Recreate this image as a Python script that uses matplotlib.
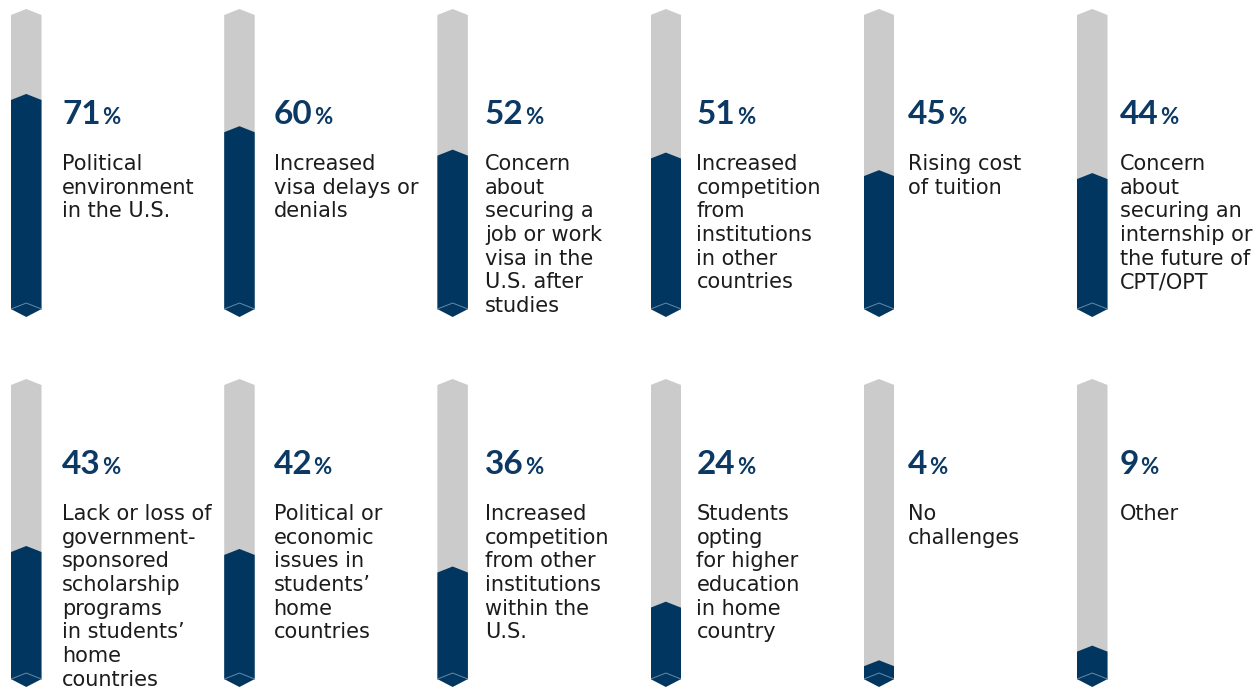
import matplotlib
matplotlib.use('Agg')
import matplotlib.pyplot as plt
from matplotlib.patches import Polygon

# survey shares, two rows of six
values_top = [71, 60, 52, 51, 45, 44]
labels_top = ["Political\nenvironment\nin the U.S.",
              "Increased\nvisa delays or\ndenials",
              "Concern\nabout\nsecuring a\njob or work\nvisa in the\nU.S. after\nstudies",
              "Increased\ncompetition\nfrom\ninstitutions\nin other\ncountries",
              "Rising cost\nof tuition",
              "Concern\nabout\nsecuring an\ninternship or\nthe future of\nCPT/OPT"]
values_bottom = [43, 42, 36, 24, 4, 9]
labels_bottom = ["Lack or loss of\ngovernment-\nsponsored\nscholarship\nprograms\nin students\u2019\nhome\ncountries",
                 "Political or\neconomic\nissues in\nstudents\u2019\nhome\ncountries",
                 "Increased\ncompetition\nfrom other\ninstitutions\nwithin the\nU.S.",
                 "Students\nopting\nfor higher\neducation\nin home\ncountry",
                 "No\nchallenges",
                 "Other"]

NAVY = '#00365f'
GRAY = '#cbcbcb'
NUM_COL = '#0b3963'
TXT_COL = '#1c1c1c'

W, H = 1260, 690
fig = plt.figure(figsize=(W / 100, H / 100), dpi=100)
fig.patch.set_facecolor('white')

PX_PER_PCT = 2.93
CAP_TOP = 2.05      # height of top chevron in %
EDGE_BOT = -2.4     # where the bottom chevron starts
TIP_BOT = -5.1      # bottom tip
INNER_BOT = -0.35   # inner light line apex
YMIN, YMAX = -5.5, 100.5
LINE_PITCH = 23.7   # px between label lines


def column_shape(v):
    return [(0, EDGE_BOT), (0, v - CAP_TOP), (0.5, v), (1, v - CAP_TOP),
            (1, EDGE_BOT), (0.5, TIP_BOT)]


def draw_row(values, labels, row):
    zero_px = 302 + row * 370      # pixel row of 0 %
    num_base = 124 + row * 350     # baseline of the big number
    lab_base = 170 + row * 350     # baseline of first label line
    for c, (v, lab) in enumerate(zip(values, labels)):
        left = 11 + c * 213.2
        top_px = zero_px - YMAX * PX_PER_PCT
        bot_px = zero_px - YMIN * PX_PER_PCT
        ax = fig.add_axes([left / W, 1 - bot_px / H, 30.5 / W, (bot_px - top_px) / H])
        ax.set_xlim(0, 1)
        ax.set_ylim(YMIN, YMAX)
        ax.axis('off')
        ax.add_patch(Polygon(column_shape(100), closed=True, fc=GRAY, ec='none'))
        ax.add_patch(Polygon(column_shape(v), closed=True, fc=NAVY, ec='none'))
        ax.plot([0, 0.5, 1], [EDGE_BOT, INNER_BOT, EDGE_BOT], color='#6a88a6', lw=0.7)

        tx = (62 + c * 211.5) / W
        num = fig.text(tx, 1 - num_base / H, str(v), fontsize=24, fontweight='bold',
                       family='Lato', color=NUM_COL, va='baseline', ha='left')
        fig.canvas.draw()
        bb = num.get_window_extent()
        fig.text((bb.x1 + 1.5) / W, 1 - num_base / H, '%', fontsize=16, fontweight='bold',
                 family='Lato', color=NUM_COL, va='baseline', ha='left')
        for i, line in enumerate(lab.split('\n')):
            fig.text(tx, 1 - (lab_base + i * LINE_PITCH) / H, line, fontsize=15,
                     family='DejaVu Sans', color=TXT_COL, va='baseline', ha='left')


draw_row(values_top, labels_top, 0)
draw_row(values_bottom, labels_bottom, 1)

fig.savefig('out.png', dpi=100, facecolor='white')
